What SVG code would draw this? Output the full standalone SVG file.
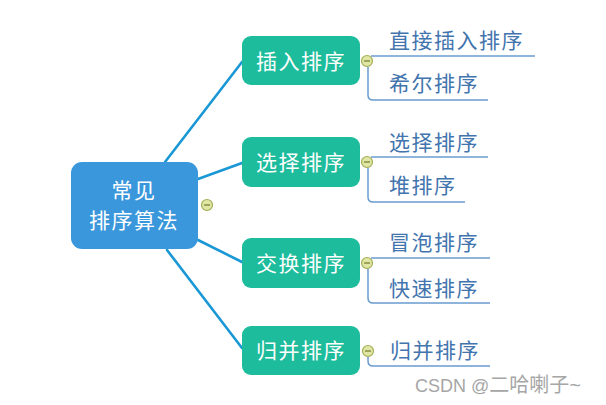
<svg xmlns="http://www.w3.org/2000/svg" width="606" height="405" viewBox="0 0 606 405">
<defs>
<style>
.t{font-family:"Microsoft YaHei","Noto Sans CJK SC","Noto Sans",sans-serif;font-size:21px;letter-spacing:1.5px}
.w{fill:#ffffff}
.branch{fill:#1dbc9c}
.root{fill:#3a97dc}
.c{fill:#4274ae}
.conn{stroke:#1a98d5;stroke-width:2.6;fill:none;stroke-linecap:round}
.ul{stroke:#6a9ccf;stroke-width:1.5;fill:none}
.tg circle{fill:#e0e6a4;stroke:#a3ad55;stroke-width:1.2}
.tg line{stroke:#6f7a2a;stroke-width:1.2}
.wm{font-family:"Liberation Sans",Arial,"Noto Sans CJK SC",sans-serif;font-size:18px;fill:#a6a6a6}
</style>
</defs>
<rect width="606" height="405" fill="#ffffff"/>
<g id="connectors">
<path class="conn" d="M165,162 L242,62"/>
<path class="conn" d="M198,179 L242,163"/>
<path class="conn" d="M198,240 L242,262"/>
<path class="conn" d="M167,250 L242,348"/>
<path class="ul" d="M371,56 H535"/>
<path class="ul" d="M368,66.5 V95 Q368,100 373,100 H488"/>
<path class="ul" d="M371,157 H488"/>
<path class="ul" d="M368,167.5 V197 Q368,202 373,202 H465"/>
<path class="ul" d="M371,258 H490"/>
<path class="ul" d="M368,268.5 V298 Q368,303 373,303 H490"/>
<path class="ul" d="M368,356.5 V361 Q368,366 373,366 H490"/>
</g>
<g id="root">
<rect class="root" x="71" y="162" width="127" height="87" rx="11"/>
<text class="t w" x="134" y="198" text-anchor="middle">常见</text>
<text class="t w" x="134" y="228" text-anchor="middle">排序算法</text>
<g class="tg"><circle cx="207" cy="205" r="5.5"/><line x1="204" y1="205" x2="210" y2="205"/></g>
</g>
<g id="n-insert">
<rect class="branch" x="242" y="36" width="118" height="49" rx="9"/>
<text class="t w" x="301" y="69" text-anchor="middle">插入排序</text>
<g class="tg"><circle cx="367" cy="61" r="5.5"/><line x1="364" y1="61" x2="370" y2="61"/></g>
</g>
<g id="n-select">
<rect class="branch" x="242" y="137" width="118" height="50" rx="9"/>
<text class="t w" x="301" y="170" text-anchor="middle">选择排序</text>
<g class="tg"><circle cx="367" cy="162" r="5.5"/><line x1="364" y1="162" x2="370" y2="162"/></g>
</g>
<g id="n-exchange">
<rect class="branch" x="242" y="238" width="118" height="50" rx="9"/>
<text class="t w" x="301" y="271" text-anchor="middle">交换排序</text>
<g class="tg"><circle cx="367" cy="263" r="5.5"/><line x1="364" y1="263" x2="370" y2="263"/></g>
</g>
<g id="n-merge">
<rect class="branch" x="242" y="326" width="118" height="49" rx="9"/>
<text class="t w" x="301" y="358" text-anchor="middle">归并排序</text>
<g class="tg"><circle cx="368" cy="351" r="5.5"/><line x1="365" y1="351" x2="371" y2="351"/></g>
</g>
<g id="c-insert1"><text class="t c" x="389" y="48">直接插入排序</text></g>
<g id="c-shell"><text class="t c" x="389" y="91">希尔排序</text></g>
<g id="c-select"><text class="t c" x="389" y="150">选择排序</text></g>
<g id="c-heap"><text class="t c" x="389" y="193">堆排序</text></g>
<g id="c-bubble"><text class="t c" x="389" y="250">冒泡排序</text></g>
<g id="c-quick"><text class="t c" x="389" y="296">快速排序</text></g>
<g id="c-merge"><text class="t c" x="390" y="358">归并排序</text></g>
<text class="wm" x="415" y="392">CSDN @<tspan font-size="20px">二哈喇子~</tspan></text>
</svg>
